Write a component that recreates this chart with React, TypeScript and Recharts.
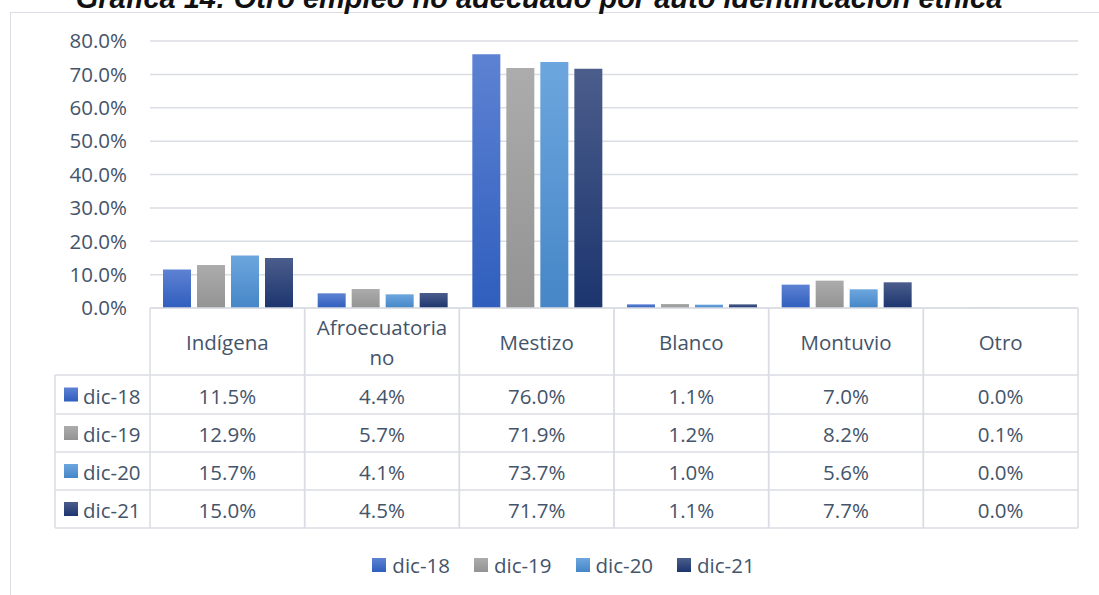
import { BarChart, Bar, XAxis, YAxis, CartesianGrid } from 'recharts'

const categories = ['Indígena', 'Afroecuatoriano', 'Mestizo', 'Blanco', 'Montuvio', 'Otro']
const headerLines = [['Indígena'], ['Afroecuatoria', 'no'], ['Mestizo'], ['Blanco'], ['Montuvio'], ['Otro']]
const seriesNames = ['dic-18', 'dic-19', 'dic-20', 'dic-21']
const dic18 = [11.5, 4.4, 76.0, 1.1, 7.0, 0.0]
const dic19 = [12.9, 5.7, 71.9, 1.2, 8.2, 0.1]
const dic20 = [15.7, 4.1, 73.7, 1.0, 5.6, 0.0]
const dic21 = [15.0, 4.5, 71.7, 1.1, 7.7, 0.0]
const yTicks = [0, 10, 20, 30, 40, 50, 60, 70, 80]

const seriesValues = [dic18, dic19, dic20, dic21]
const GRADS = [
  ['#5d82d3', '#2f5ebd'],
  ['#acacac', '#939393'],
  ['#6ca6de', '#4686c7'],
  ['#4b5d8b', '#1c356f'],
]

const W = 1099
const H = 595
const PLOT_L = 150
const PLOT_R = 1078
const PLOT_TOP = 41
const AXIS_Y = 308
const COL_W = (PLOT_R - PLOT_L) / categories.length
const ROWS = [375, 414, 452, 490, 528]
const LABEL_L = 55
const GRID = '#dadde3'
const TEXT = '#44546a'
const FONT = '"Open Sans", sans-serif'
const FS = 20.5

const data = categories.map((name, i) => ({
  name,
  d18: dic18[i],
  d19: dic19[i],
  d20: dic20[i],
  d21: dic21[i],
}))

const fmt = (v: number) => v.toFixed(1) + '%'

function TableColumn(props: any) {
  const { x, index } = props
  const left = x - COL_W / 2
  const right = x + COL_W / 2
  const lines = headerLines[index]
  const headMid = (AXIS_Y + ROWS[0]) / 2
  return (
    <g fontFamily={FONT} fontSize={FS} fill={TEXT}>
      <line x1={left} y1={AXIS_Y} x2={left} y2={ROWS[4]} stroke={GRID} strokeWidth={1.5} />
      <line x1={right} y1={AXIS_Y} x2={right} y2={ROWS[4]} stroke={GRID} strokeWidth={1.5} />
      {ROWS.map(r => (
        <line key={r} x1={left} y1={r} x2={right} y2={r} stroke={GRID} strokeWidth={1.5} />
      ))}
      {lines.map((t, k) => (
        <text
          key={t}
          x={x}
          y={headMid + (k - (lines.length - 1) / 2) * 30}
          textAnchor="middle"
          dominantBaseline="central"
        >
          {t}
        </text>
      ))}
      {seriesValues.map((vals, r) => (
        <text
          key={r}
          x={x}
          y={(ROWS[r] + ROWS[r + 1]) / 2 + 1}
          textAnchor="middle"
          dominantBaseline="central"
        >
          {fmt(vals[index])}
        </text>
      ))}
      {index === 0 && (
        <g>
          <line x1={LABEL_L} y1={ROWS[0]} x2={LABEL_L} y2={ROWS[4]} stroke={GRID} strokeWidth={1.5} />
          {ROWS.map(r => (
            <line key={r} x1={LABEL_L} y1={r} x2={left} y2={r} stroke={GRID} strokeWidth={1.5} />
          ))}
          {seriesNames.map((s, r) => {
            const cy = (ROWS[r] + ROWS[r + 1]) / 2
            return (
              <g key={s}>
                <rect x={64} y={cy - 7} width={14} height={14} fill={`url(#g${r})`} />
                <text x={83} y={cy + 1} dominantBaseline="central">
                  {s}
                </text>
              </g>
            )
          })}
        </g>
      )}
    </g>
  )
}

export default function App() {
  return (
    <div style={{ position: 'absolute', left: 0, top: 0, width: W, height: H, background: '#fff', overflow: 'hidden' }}>
      <div
        style={{
          position: 'absolute',
          left: 10,
          top: 12,
          width: W,
          height: H,
          borderLeft: `1.5px solid ${GRID}`,
          borderTop: `1.5px solid ${GRID}`,
        }}
      />
      <div
        style={{
          position: 'absolute',
          left: 0,
          top: -16,
          width: 1078,
          textAlign: 'center',
          fontFamily: 'Arial, "Liberation Sans", sans-serif',
          fontWeight: 'bold',
          fontStyle: 'italic',
          fontSize: 29,
          lineHeight: '29px',
          color: '#111',
          whiteSpace: 'nowrap',
        }}
      >
        Gráfica 14: Otro empleo no adecuado por auto identificación étnica
      </div>
      <div style={{ position: 'absolute', left: 0, top: 0 }}>
        <BarChart
          width={W}
          height={H}
          data={data}
          margin={{ top: PLOT_TOP, right: W - PLOT_R, bottom: H - AXIS_Y - 1, left: 0 }}
          barCategoryGap={13}
          barGap={6}
        >
          <defs>
            {GRADS.map((g, i) => (
              <linearGradient key={i} id={`g${i}`} x1="0" y1="0" x2="0" y2="1">
                <stop offset="0%" stopColor={g[0]} />
                <stop offset="100%" stopColor={g[1]} />
              </linearGradient>
            ))}
          </defs>
          <CartesianGrid vertical={false} stroke={GRID} strokeWidth={1.5} />
          <YAxis
            width={PLOT_L}
            domain={[0, 80]}
            ticks={yTicks}
            tickFormatter={fmt}
            axisLine={false}
            tickLine={false}
            tickSize={0}
            tickMargin={23}
            tick={{ fill: TEXT, fontSize: FS, fontFamily: FONT }}
          />
          <XAxis
            dataKey="name"
            height={1}
            interval={0}
            axisLine={{ stroke: GRID, strokeWidth: 1.5 }}
            tickLine={false}
            tickSize={0}
            tickMargin={0}
            tick={<TableColumn />}
          />
          <Bar dataKey="d18" name="dic-18" fill="url(#g0)" isAnimationActive={false} />
          <Bar dataKey="d19" name="dic-19" fill="url(#g1)" isAnimationActive={false} />
          <Bar dataKey="d20" name="dic-20" fill="url(#g2)" isAnimationActive={false} />
          <Bar dataKey="d21" name="dic-21" fill="url(#g3)" isAnimationActive={false} />
        </BarChart>
      </div>
      <div
        style={{
          position: 'absolute',
          left: 0,
          top: 552,
          width: 1127,
          display: 'flex',
          justifyContent: 'center',
          gap: 24,
          fontFamily: FONT,
          fontSize: FS,
          color: TEXT,
          lineHeight: '26px',
        }}
      >
        {seriesNames.map((s, i) => (
          <div key={s} style={{ display: 'flex', alignItems: 'center', gap: 6 }}>
            <div
              style={{
                width: 14,
                height: 14,
                background: `linear-gradient(${GRADS[i][0]}, ${GRADS[i][1]})`,
              }}
            />
            <span>{s}</span>
          </div>
        ))}
      </div>
    </div>
  )
}
